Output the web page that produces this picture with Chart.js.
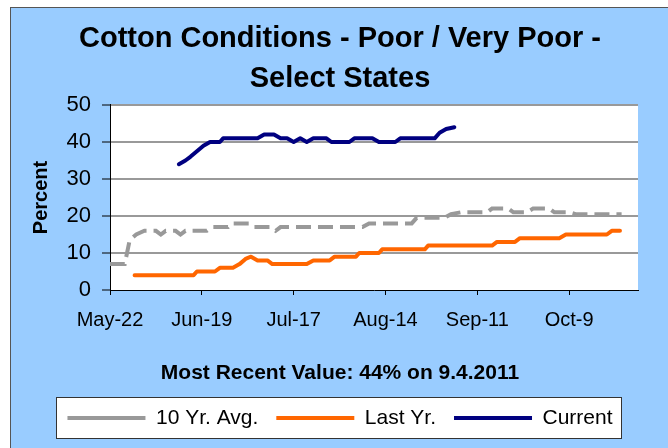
<!DOCTYPE html>
<html>
<head>
<meta charset="utf-8">
<title>Cotton Conditions - Poor / Very Poor</title>
<script src="https://cdn.jsdelivr.net/npm/chart.js@4"></script>
<style>
  html, body { margin: 0; padding: 0; background: #fff; }
  #wrap { width: 668px; height: 448px; position: relative; }
</style>
</head>
<body>
<div id="wrap"><canvas id="cottonChart"></canvas></div>
<script>
// x values are days counted from May-22
const tickDays = [0, 28, 56, 84, 112, 140];
const tickLabels = ['May-22', 'Jun-19', 'Jul-17', 'Aug-14', 'Sep-11', 'Oct-9'];

// 10 Yr. Avg.
const avgDays = [0, 4.5, 6, 8, 10.5, 14, 15.5, 17, 20, 21.5, 23, 29.5, 31, 36, 37, 42.5, 44, 49, 50.5, 52,
  77, 79, 92, 93.5, 102, 104, 107, 115, 116.5, 121.5, 123, 127, 129, 134, 135.5, 140, 142, 156];
const avgValues = [7, 7, 13.5, 15, 16, 16, 15, 16, 16, 15, 16, 16, 17, 17, 18, 18, 17, 17, 16, 17,
  17, 18, 18, 19.5, 19.5, 20.5, 21, 21, 22, 22, 21, 21, 22, 22, 21, 21, 20.5, 20.5];

// Last Yr.
const lastDays = [7.5, 25.5, 26.5, 32, 33.5, 37.5, 39.5, 41.5, 43, 45, 48, 49.5, 60, 62, 67, 68.5, 75, 76,
  82, 83, 96, 97, 116.5, 118, 123.5, 125, 137, 139, 151.5, 153, 155.5];
const lastValues = [4, 4, 5, 5, 6, 6, 7, 8.5, 9, 8, 8, 7, 7, 8, 8, 9, 9, 10,
  10, 11, 11, 12, 12, 13, 13, 14, 14, 15, 15, 16, 16];

// Current
const currentDays = [21, 23, 24.5, 26.5, 28.5, 30.5, 33.5, 34.5, 45, 47, 50, 52, 54, 56, 58, 60, 62,
  66, 67.5, 73, 74.5, 80, 82, 87, 88.5, 99, 100.5, 102.5, 105];
const currentValues = [34, 35, 36, 37.5, 39, 40, 40, 41, 41, 42, 42, 41, 41, 40, 41, 40, 41,
  41, 40, 40, 41, 41, 40, 40, 41, 41, 42.5, 43.5, 44];

function toPoints(days, values) {
  return days.map((d, i) => ({ x: d, y: values[i] }));
}

const FONT = "'Liberation Sans', Arial, sans-serif";

// blue panel, white plot area and the box around the legend
const framePlugin = {
  id: 'frame',
  beforeDraw(chart) {
    const ctx = chart.ctx;
    const { left, top, right, bottom } = chart.chartArea;
    ctx.save();
    ctx.fillStyle = '#ffffff';
    ctx.fillRect(0, 0, chart.width, chart.height);
    ctx.fillStyle = '#99ccff';
    ctx.fillRect(10, 7, chart.width - 10, chart.height - 7);
    ctx.strokeStyle = '#555555';
    ctx.lineWidth = 1;
    ctx.strokeRect(10.5, 7.5, chart.width, chart.height);
    ctx.fillStyle = '#ffffff';
    ctx.fillRect(left, top, right - left, bottom - top);

    const boxes = chart.legend.legendHitBoxes;
    if (boxes && boxes.length) {
      const first = boxes[0];
      const last = boxes[boxes.length - 1];
      const cy = first.top + first.height / 2;
      const x1 = Math.round(first.left - 11) + 0.5;
      const x2 = Math.round(last.left + last.width + 8) + 0.5;
      const y1 = Math.round(cy - 21) + 0.5;
      const y2 = Math.round(cy + 20) + 0.5;
      ctx.fillRect(x1, y1, x2 - x1, y2 - y1);
      ctx.strokeStyle = '#333333';
      ctx.strokeRect(x1, y1, x2 - x1, y2 - y1);
    }
    ctx.restore();
  }
};

const ctx = document.getElementById('cottonChart').getContext('2d');

const cottonChart = new Chart(ctx, {
  type: 'line',
  data: {
    datasets: [
      {
        label: '10 Yr. Avg.',
        data: toPoints(avgDays, avgValues),
        borderColor: '#999999',
        backgroundColor: '#999999',
        borderWidth: 4,
        borderDash: [15, 7],
        borderCapStyle: 'butt',
        pointRadius: 0,
        tension: 0
      },
      {
        label: 'Last Yr.',
        data: toPoints(lastDays, lastValues),
        borderColor: '#ff6600',
        backgroundColor: '#ff6600',
        borderWidth: 4,
        borderCapStyle: 'round',
        borderJoinStyle: 'round',
        pointRadius: 0,
        tension: 0
      },
      {
        label: 'Current',
        data: toPoints(currentDays, currentValues),
        borderColor: '#000080',
        backgroundColor: '#000080',
        borderWidth: 4,
        borderCapStyle: 'round',
        borderJoinStyle: 'round',
        pointRadius: 0,
        tension: 0
      }
    ]
  },
  options: {
    responsive: true,
    maintainAspectRatio: false,
    animation: false,
    layout: {
      padding: { left: 14, right: 2, top: 8, bottom: 9.5 }
    },
    plugins: {
      title: {
        display: true,
        text: ['Cotton Conditions - Poor / Very Poor -', 'Select States'],
        color: '#000000',
        font: { family: FONT, size: 29, weight: 'bold', lineHeight: 1.4 },
        padding: { top: 10.2, bottom: 5.6 }
      },
      subtitle: {
        display: true,
        position: 'bottom',
        weight: 500,
        text: 'Most Recent Value: 44% on 9.4.2011',
        color: '#000000',
        font: { family: FONT, size: 21, weight: 'bold', lineHeight: 1.2 },
        padding: { top: 15, bottom: 3.3 }
      },
      legend: {
        position: 'bottom',
        labels: {
          color: '#000000',
          font: { family: FONT, size: 21 },
          usePointStyle: true,
          pointStyle: 'line',
          pointStyleWidth: 78,
          padding: 18,
          generateLabels(chart) {
            const items = Chart.defaults.plugins.legend.labels.generateLabels(chart);
            items.forEach(item => {
              item.pointStyle = 'line';
              if (item.lineDash && item.lineDash.length) {
                item.lineDash = [35, 20];
              }
            });
            return items;
          }
        }
      },
      tooltip: { enabled: false }
    },
    scales: {
      x: {
        type: 'linear',
        min: 0,
        max: 161,
        afterBuildTicks(scale) {
          scale.ticks = tickDays.map(v => ({ value: v }));
        },
        afterFit(scale) {
          scale.height = 56;
        },
        ticks: {
          autoSkip: false,
          maxRotation: 0,
          padding: 13,
          color: '#000000',
          font: { family: FONT, size: 20 },
          callback(value) {
            const i = tickDays.indexOf(value);
            return i >= 0 ? tickLabels[i] : '';
          }
        },
        grid: {
          drawOnChartArea: false,
          drawTicks: true,
          tickLength: 5,
          tickColor: '#000000',
          tickWidth: 1
        },
        border: { display: true, color: '#000000', width: 1 }
      },
      y: {
        min: 0,
        max: 50,
        afterFit(scale) {
          scale.width = 96;
        },
        ticks: {
          stepSize: 10,
          padding: 11,
          color: '#000000',
          font: { family: FONT, size: 22 }
        },
        grid: {
          color: c => (c.tick && c.tick.value === 0) ? 'rgba(0,0,0,0)' : '#999999',
          lineWidth: 2,
          tickLength: 8,
          tickColor: '#000000',
          tickWidth: 1
        },
        border: { display: true, color: '#000000', width: 1 },
        title: {
          display: true,
          text: 'Percent',
          color: '#000000',
          font: { family: FONT, size: 20, weight: 'bold', lineHeight: 1.2 },
          padding: { top: 15, bottom: 0 }
        }
      },
      yPad: {
        type: 'linear',
        position: 'right',
        display: true,
        ticks: { display: false },
        grid: { display: false },
        border: { display: false },
        afterFit(scale) {
          scale.width = 28;
        }
      }
    }
  },
  plugins: [framePlugin]
});
</script>
</body>
</html>
